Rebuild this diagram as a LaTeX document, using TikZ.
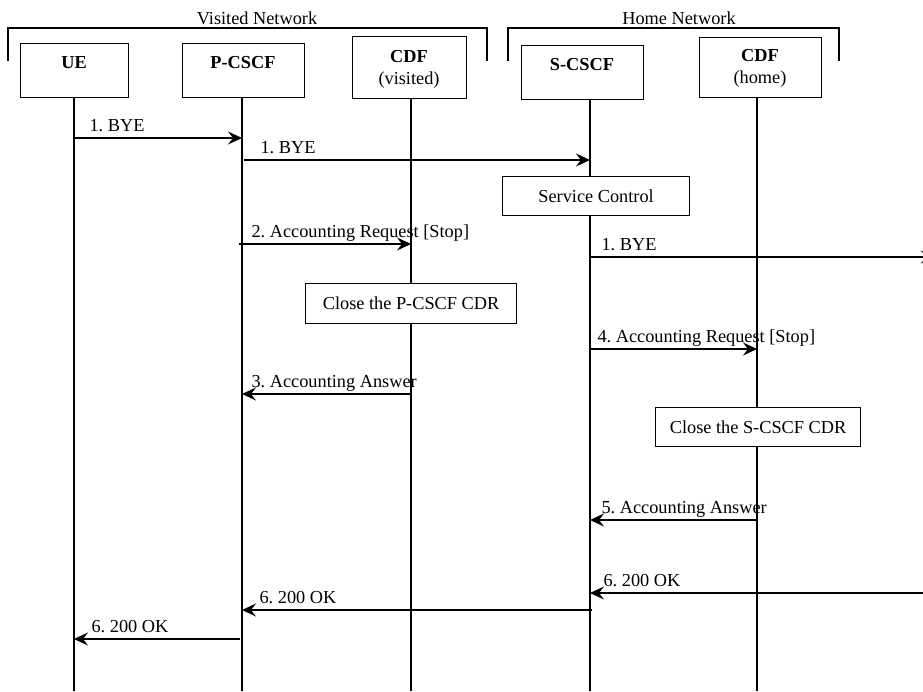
\documentclass[tikz,border=0pt]{standalone}
\usepackage{fontspec}
\setmainfont{Liberation Serif}
\usetikzlibrary{arrows.meta}
\frenchspacing
\begin{document}
\begin{tikzpicture}[x=1pt,y=-1pt, line width=1.1pt,
  box/.style={draw, fill=white, inner sep=0pt, anchor=north west, font=\fontsize{18.3}{22}\selectfont},
  txt/.style={font=\fontsize{18.3}{22}\selectfont, inner sep=0pt},
  hdr/.style={txt, font=\fontsize{18.3}{22}\selectfont\bfseries},
  msg/.style={-{Stealth[length=14pt,width=13pt,inset=5pt]}},
  lbl/.style={txt, anchor=base west}]
\clip (0,0) rectangle (923,691);
\fill[white] (0,0) rectangle (923,691);
% network brackets
\node[txt] (vn) at (257,18) {Visited Network};
\node[txt] (hn) at (679,18) {Home Network};
\draw (8,61) -- (8,28) -- (487,28) -- (487,61);
\draw (508,61) -- (508,28) -- (839,28) -- (839,61);
% entity boxes
\node[box, minimum width=108pt, minimum height=54pt] (ue) at (20,43) {};
\node[box, minimum width=122pt, minimum height=54pt] (pc) at (182,43) {};
\node[box, minimum width=114pt, minimum height=62pt] (cv) at (352,36) {};
\node[box, minimum width=122pt, minimum height=54pt] (sc) at (521,45) {};
\node[box, minimum width=122pt, minimum height=60pt] (ch) at (699,37) {};
\node[hdr] (tue) at (74,63) {UE};
\node[hdr] (tpc) at (243,63) {P-CSCF};
\node[txt, align=center] (tcv) at (409,69) {\textbf{CDF}\\(visited)};
\node[hdr] (tsc) at (582,65) {S-CSCF};
\node[txt, align=center] (tch) at (760,68) {\textbf{CDF}\\(home)};
% lifelines
\coordinate (Lue) at (74,97);  \coordinate (Bue) at (74,691);
\coordinate (Lpc) at (242,97); \coordinate (Bpc) at (242,691);
\coordinate (Lcv) at (411,98); \coordinate (Bcv) at (411,691);
\coordinate (Lsc) at (590,99); \coordinate (Bsc) at (590,691);
\coordinate (Lch) at (757,97); \coordinate (Bch) at (757,691);
\foreach \n in {ue,pc,cv,sc,ch} \draw (L\n) -- (B\n);
% action boxes
\node[box, minimum width=187pt, minimum height=39pt] (svc) at (502,176) {Service Control};
\node[box, minimum width=211pt, minimum height=40pt] (cpc) at (305,283) {Close the P-CSCF CDR};
\node[box, minimum width=205pt, minimum height=39pt] (csc) at (655,407) {Close the S-CSCF CDR};
% free ends
\coordinate (E1) at (935,257);
\coordinate (E2) at (923,593);
% messages
\draw[msg] (Lue |- 0,138) -- (Lpc |- 0,138);
\node[lbl] (m1) at (89,131) {1. BYE};
\draw[msg] ([xshift=2pt]Lpc |- 0,160) -- (Lsc |- 0,160);
\node[lbl] (m2) at (260,153) {1. BYE};
\draw[msg] ([xshift=-3pt]Lpc |- 0,244) -- (Lcv |- 0,244);
\node[lbl] (m3) at (251,237) {2. Accounting Request [Stop]};
\draw[msg] (Lsc |- 0,257) -- (E1);
\node[lbl] (m4) at (601,250) {1. BYE};
\draw[msg] (Lsc |- 0,349) -- (Lch |- 0,349);
\node[lbl] (m5) at (597,342) {4. Accounting Request [Stop]};
\draw[msg] (Lcv |- 0,394) -- (Lpc |- 0,394);
\node[lbl] (m6) at (251,387) {3. Accounting Answer};
\draw[msg] (Lch |- 0,520) -- (Lsc |- 0,520);
\node[lbl] (m7) at (601,513) {5. Accounting Answer};
\draw[msg] (E2) -- (Lsc |- 0,593);
\node[lbl] (m8) at (603,586) {6. 200 OK};
\draw[msg] ([xshift=2pt]Lsc |- 0,610) -- (Lpc |- 0,610);
\node[lbl] (m9) at (259,603) {6. 200 OK};
\draw[msg] ([xshift=-2pt]Lpc |- 0,639) -- (Lue |- 0,639);
\node[lbl] (m10) at (91,632) {6. 200 OK};
\end{tikzpicture}
\end{document}
